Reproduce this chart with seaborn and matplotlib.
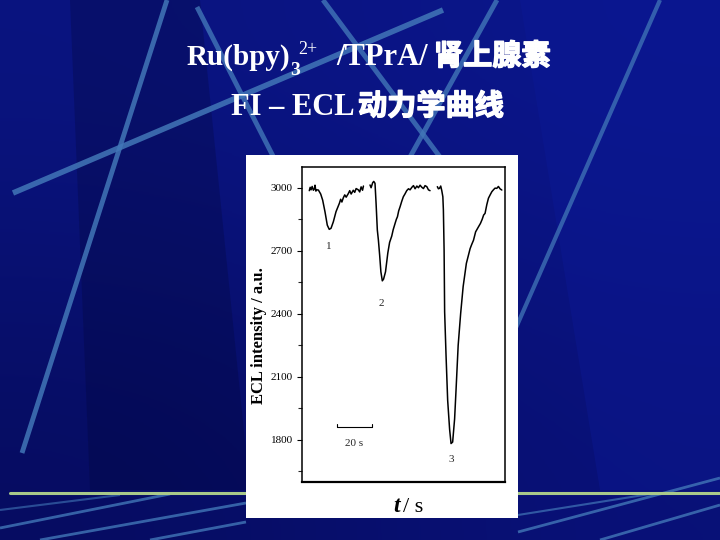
import numpy as np
import pandas as pd
import matplotlib
matplotlib.use("Agg")
import matplotlib.pyplot as plt
import matplotlib.patches as mpatches
import matplotlib.patheffects as pe
import seaborn as sns

# ── Data ─────────────────────────────────────────────────────────────────────
SEG1_T = [4.1, 4.6, 5.1, 5.7, 6.4, 7.0, 7.3, 7.8, 8.3, 9.2, 10.5, 11.6, 12.9,
          14.2, 15.3, 16.3, 17.6, 19.1, 20.0, 21.0, 21.7, 22.4, 23.2, 24.0,
          24.8, 26.0, 26.8, 27.6, 28.8, 29.6, 30.4, 31.6, 32.4, 33.2, 34.0, 34.5]
SEG1_V = [2986, 3002, 2990, 3006, 2988, 2996, 3012, 2984, 2990, 2989, 2970, 2941, 2886,
          2822, 2802, 2807, 2838, 2886, 2905, 2926, 2945, 2932, 2952, 2966,
          2955, 2972, 2986, 2970, 2988, 2978, 2996, 2990, 2980, 3004, 2988, 3008]

SEG2_T = [38.2, 38.8, 39.7, 40.3, 41.0, 41.6, 42.3, 42.9, 43.6, 44.3, 45.1, 45.8,
          46.9, 48.2, 49.2, 50.4, 51.2, 52.3, 53.0, 53.6, 54.3, 55.1, 56.0, 56.9,
          57.8, 58.8, 59.8, 60.7, 61.7, 62.6, 63.5, 64.5, 65.4, 66.3, 67.3, 68.2,
          69.1, 70.1, 71.0, 71.9]
SEG2_V = [3013, 3000, 3024, 3030, 3021, 2926, 2799, 2751, 2680, 2600, 2557, 2565,
          2600, 2690, 2740, 2770, 2800, 2831, 2850, 2862, 2890, 2910, 2935, 2957,
          2970, 2986, 2995, 2990, 3002, 3010, 2995, 3008, 3000, 3012, 3002, 2996,
          3010, 3005, 2990, 2986]

SEG3_T = [76.0, 76.6, 77.2, 77.9, 78.5, 79.1, 79.4, 79.8, 80.1, 80.9, 81.8, 82.9,
          83.7, 84.6, 85.7, 86.5, 87.7, 89.1, 90.5, 92.3, 94.4, 95.3, 96.3, 97.5,
          99.1, 100.2, 101.2, 102.0, 102.8, 103.8, 104.7, 105.6, 106.6, 107.5,
          108.4, 109.4, 110.3, 111.2, 112.2]
SEG3_V = [3005, 2995, 2997, 3008, 2986, 2957, 2894, 2703, 2410, 2200, 1989, 1850,
          1783, 1790, 1900, 2037, 2250, 2402, 2530, 2640, 2710, 2730, 2750, 2790,
          2814, 2830, 2850, 2870, 2878, 2920, 2950, 2965, 2981, 2990,
          2998, 2997, 3006, 2995, 2989]

PEAK_LABELS = ["1", "2", "3"]
PEAK_T = [15.2, 44.4, 83.7]
PEAK_V = [2718, 2450, 1705]

Y_TICKS = [1800, 2100, 2400, 2700, 3000]
Y_MINOR = [1650, 1950, 2250, 2550, 2850]

SCALE_T = [19.5, 39.5]       # 20 s scale bar
SCALE_V = 1862

# ── Style ─────────────────────────────────────────────────────────────────────
sns.set_theme(style="ticks")
plt.rcParams["font.family"] = ["Liberation Serif", "Noto Sans CJK SC", "DejaVu Sans"]

BG_LINE = "#4277b8"

fig = plt.figure(figsize=(7.2, 5.4), dpi=100)

# slide background (pixel coordinates)
bg = fig.add_axes([0, 0, 1, 1])
bg.set_xlim(0, 720)
bg.set_ylim(540, 0)
bg.axis("off")
grad = np.array([[[10, 20, 128], [11, 22, 140]],
                 [[6, 12, 96], [9, 17, 120]]], dtype=float) / 255
bg.imshow(grad, extent=(0, 720, 540, 0), interpolation="bicubic", aspect="auto", zorder=0)
bg.add_patch(mpatches.Polygon([(70, 0), (200, 0), (250, 490), (90, 490)],
                              closed=True, color="#020530", alpha=0.25, lw=0, zorder=1))
bg.add_patch(mpatches.Polygon([(520, 0), (720, 0), (720, 490), (600, 490)],
                              closed=True, color="#0c1a9a", alpha=0.35, lw=0, zorder=1))

deco = [((13, 193), (443, 10), 4.0, 0.85),
        ((167, 0), (22, 453), 3.5, 0.85),
        ((197, 7), (275, 160), 3.5, 0.8),
        ((323, 0), (440, 157), 3.5, 0.8),
        ((497, 0), (410, 157), 3.5, 0.8),
        ((660, 0), (515, 330), 3.0, 0.75),
        ((0, 528), (170, 494), 2.0, 0.8),
        ((40, 540), (246, 503), 2.0, 0.8),
        ((150, 540), (246, 522), 2.0, 0.8),
        ((0, 510), (120, 495), 1.5, 0.6),
        ((518, 532), (720, 478), 2.0, 0.8),
        ((600, 540), (720, 505), 2.0, 0.8),
        ((518, 515), (650, 494), 1.5, 0.7)]
for (x0, y0), (x1, y1), lw, a in deco:
    bg.plot([x0, x1], [y0, y1], color=BG_LINE, lw=lw, alpha=a, solid_capstyle="butt", zorder=2)
bg.plot([10, 720], [493, 493], color="#a9c98a", lw=2.2, zorder=2)

# white panel behind the graph
bg.add_patch(mpatches.Rectangle((246, 155), 272, 363, color="white", lw=0, zorder=3))

# title
title_kw = dict(color="white", fontweight="bold", va="baseline", zorder=5)
cjk_fx = [pe.withStroke(linewidth=1.0, foreground="white")]
bg.text(187, 65, "Ru(bpy)", fontsize=21, **title_kw)
bg.text(290, 75, "3", fontsize=14, **title_kw)
bg.text(298, 54, "2+", fontsize=13, color="white", va="baseline", zorder=5)
bg.text(336, 65, "/TPrA/", fontsize=22, **title_kw)
bg.text(434, 65, "肾上腺素", fontsize=21, path_effects=cjk_fx, **title_kw)
bg.text(231, 115, "FI – ECL", fontsize=22, **title_kw)
bg.text(358, 115, "动力学曲线", fontsize=21, path_effects=cjk_fx, **title_kw)

# axis labels drawn on the panel
bg.text(259, 336, "ECL intensity / a.u.", rotation=90, fontsize=12, fontweight="bold",
        ha="center", va="center", color="black", zorder=5)
bg.text(400, 512, "t", fontsize=17, fontstyle="italic", fontweight="bold",
        ha="right", va="baseline", color="black", zorder=5)
bg.text(403, 512, "/ s", fontsize=16, ha="left", va="baseline", color="black", zorder=5)

# ── Graph ─────────────────────────────────────────────────────────────────────
df = pd.DataFrame({
    "t": SEG1_T + SEG2_T + SEG3_T,
    "v": SEG1_V + SEG2_V + SEG3_V,
    "seg": ["1"] * len(SEG1_T) + ["2"] * len(SEG2_T) + ["3"] * len(SEG3_T),
})

ax = fig.add_axes([302 / 720, 1 - 482 / 540, 203 / 720, 315.3 / 540])
ax.set_facecolor("white")
sns.lineplot(data=df, x="t", y="v", units="seg", estimator=None,
             color="black", lw=1.1, ax=ax)
ax.set_xlim(0, 114)
ax.set_ylim(1600, 3100)
ax.set_xticks([])
ax.set_yticks(Y_TICKS)
ax.set_yticks(Y_MINOR, minor=True)
ax.set_yticklabels([str(v) for v in Y_TICKS])
ax.tick_params(axis="y", which="major", direction="out", length=3.5, width=0.8,
               pad=3, labelsize=8, colors="black")
ax.tick_params(axis="y", which="minor", direction="out", length=3, width=0.8)
ax.set_xlabel("")
ax.set_ylabel("")
for side in ["left", "right", "top", "bottom"]:
    ax.spines[side].set_visible(True)
    ax.spines[side].set_color("black")
    ax.spines[side].set_linewidth(1.1)
ax.spines["bottom"].set_linewidth(1.6)

for lab, t, v in zip(PEAK_LABELS, PEAK_T, PEAK_V):
    ax.text(t, v, lab, fontsize=8, ha="center", va="center")

ax.plot(SCALE_T, [SCALE_V, SCALE_V], color="black", lw=0.8)
for t in SCALE_T:
    ax.plot([t, t], [SCALE_V, SCALE_V + 15], color="black", lw=0.8)
ax.text(sum(SCALE_T) / 2, SCALE_V - 80, "20 s", fontsize=8, ha="center", va="center")

fig.savefig("out.png", dpi=100)
plt.close(fig)
